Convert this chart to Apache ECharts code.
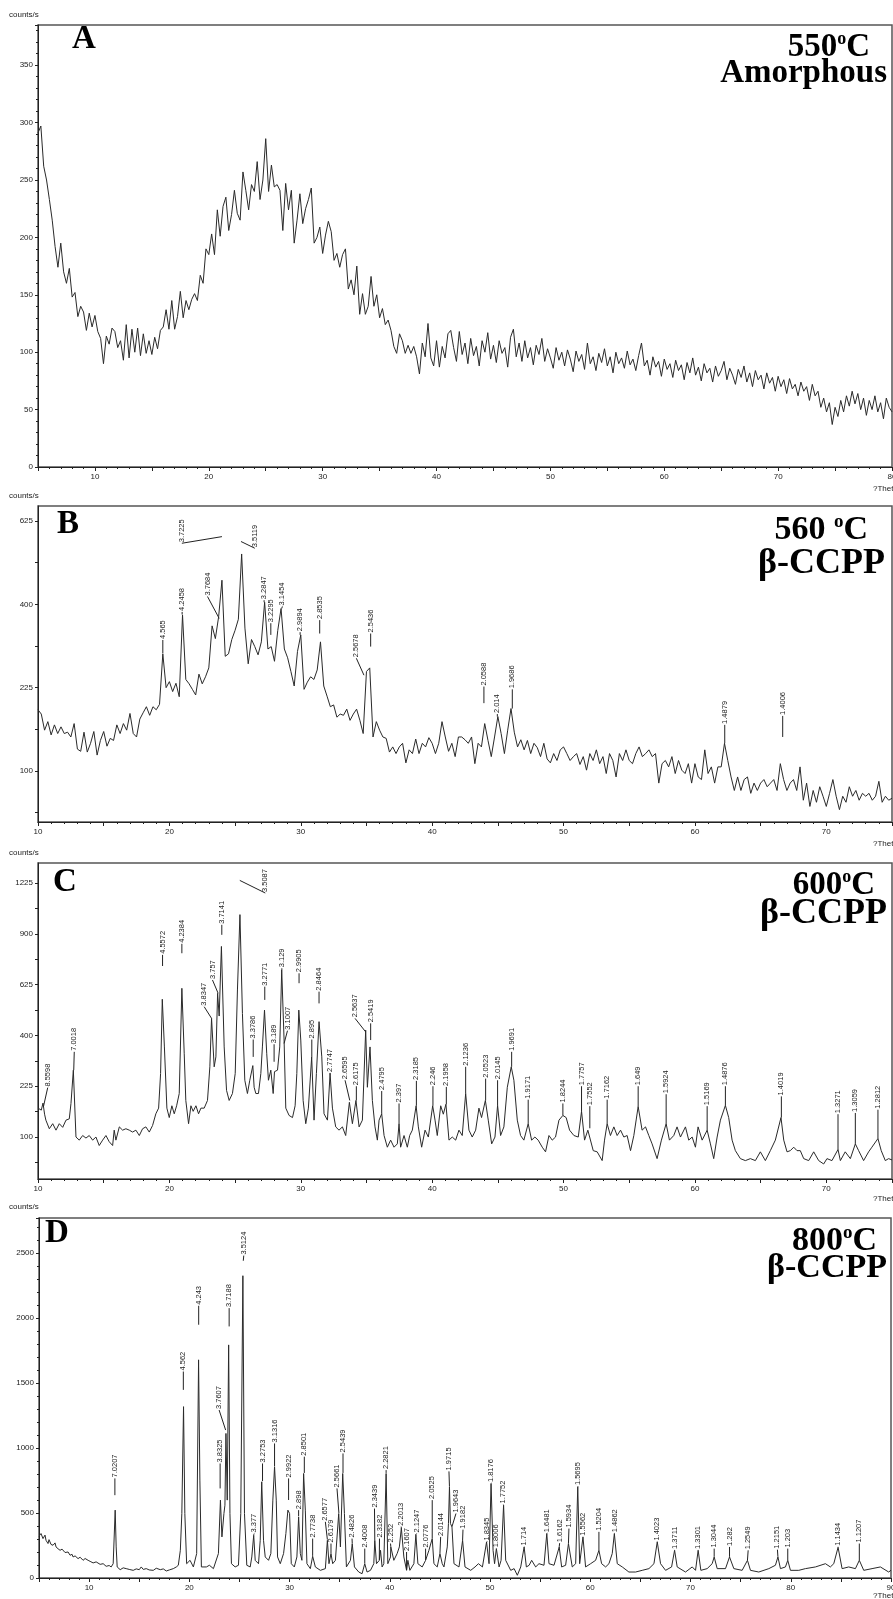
<!DOCTYPE html>
<html><head><meta charset="utf-8">
<script src="https://cdn.jsdelivr.net/npm/echarts@6/dist/echarts.min.js"></script>
<style>html,body{margin:0;padding:0;background:#fff}#c{width:893px;height:1599px}</style>
</head><body><div id="c"></div>
<script>
// ---------------- DATA ----------------
const STEP = 0.25;               // scan step (deg 2θ) for panels A and B
const aStart = 5;
// Panel A, 550 °C, counts/s, one row per degree (x.00, x.25, x.50, x.75)
const aCounts = [
 291,297,262,250, 233,215,192,174, 195,170,160,173, 148,152,131,140, 135,119,134,122, // 5-9
 132,118,112,90, 114,107,121,118, 104,110,93,124, 95,120,100,121, 97,116,99,110,      // 10-14
 98,113,103,119, 122,137,120,145, 120,131,153,130, 145,137,146,151, 145,167,160,190,   // 15-19
 185,203,185,224, 201,227,235,206, 220,241,221,215, 257,241,224,246, 240,266,233,250,  // 20-24
 286,240,263,244, 246,241,206,247, 224,241,195,215, 238,212,225,233, 243,195,200,209,  // 25-29
 186,202,214,205, 180,186,174,185, 190,155,163,150, 175,133,151,133, 140,166,140,150,  // 30-34
 130,138,124,128, 119,105,99,116, 110,99,106,99, 105,96,81,108, 96,125,95,88,          // 35-39
 110,87,105,95, 116,119,104,92, 118,98,108,90, 112,97,105,88, 110,100,117,94,          // 40-44
 106,91,110,99, 104,87,113,120, 96,108,92,110, 95,104,89,106, 98,112,92,103,           // 45-49
 95,86,104,93, 100,88,102,94, 83,101,92,98, 85,108,90,96, 84,99,91,103,                // 50-54
 88,96,82,100, 90,95,86,101, 89,94,84,97, 108,88,93,80, 96,87,92,79,                   // 55-59
 94,85,90,78, 93,84,89,76, 91,82,95,80, 87,75,90,82, 86,74,88,79,                      // 60-64
 84,92,76,86, 80,72,85,78, 88,74,82,70, 84,76,80,68, 82,73,78,66,                      // 65-69
 79,70,76,64, 77,68,72,62, 74,66,70,58, 72,62,66,52, 60,48,56,37,                      // 70-74
 52,44,58,48, 62,53,66,55, 64,50,60,45, 58,50,62,48, 56,42,60,52,                      // 75-79
 48                                                                                     // 80
];
const bStart = 10;
// Panel B, 560 °C, counts/s, one row per degree
const bCounts = [
 187,180,155,168, 148,163,150,160, 150,152,145,165, 128,125,152,124, 136,153,120,140,  // 10-14
 153,132,143,140, 163,150,165,155, 181,150,145,172, 182,192,178,192, 187,196,290,225,  // 15-19
 236,218,233,209, 375,240,232,222, 212,250,232,245, 262,350,322,371, 460,285,290,320,  // 20-24
 340,365,530,345, 270,320,305,288, 315,405,300,305, 275,340,390,300, 282,255,228,295,  // 25-29
 330,222,235,245, 240,258,315,228, 210,192,195,175, 180,178,188,170, 180,188,170,150,  // 30-34
 255,262,145,168, 155,145,143,124, 131,122,131,136, 110,127,122,142, 122,136,131,144,  // 35-39
 136,122,136,168, 145,125,136,118, 145,145,141,136, 145,109,136,131, 165,140,118,145,  // 40-44
 176,150,122,155, 189,152,131,141, 127,140,122,136, 130,118,136,115, 110,122,113,127,  // 45-49
 131,122,113,118, 122,108,118,101, 122,113,127,109, 118,97,122,113, 93,122,113,127,    // 50-54
 113,109,122,131, 118,122,127,118, 122,86,109,113, 105,118,97,113, 101,97,109,86,      // 55-59
 109,93,90,127, 97,105,86,105, 105,136,113,93, 78,93,78,90, 93,75,86,78,               // 60-64
 86,90,82,86, 90,78,109,90, 78,86,90,78, 105,68,86,62, 78,66,82,72,                    // 65-69
 62,75,90,72, 59,72,66,82, 72,78,68,75, 72,75,68,72, 88,66,72,68,                      // 70-74
 70                                                                                     // 75
];
// Panel C, 600 °C: [2θ, counts/s]
const cPoints = [
 [10.0,165],[10.1,164],[10.25,160],[10.38,178],[10.5,150],[10.6,136],[10.86,117],[11.12,128],[11.37,114],[11.62,128],
 [11.88,120],[12.13,136],[12.38,139],[12.51,177],[12.69,275],[12.89,100],[13.02,103],[13.14,94],[13.4,103],[13.65,98],
 [13.9,103],[14.16,94],[14.41,100],[14.66,84],[14.92,94],[15.17,103],[15.42,91],[15.68,84],[15.8,114],[15.93,94],
 [16.19,121],[16.44,114],[16.69,117],[16.95,114],[17.2,110],[17.45,114],[17.71,103],[17.96,117],[18.21,121],[18.47,110],
 [18.72,124],[18.97,151],[19.18,165],[19.33,264],[19.46,555],[19.62,356],[19.81,165],[19.99,142],[20.19,171],[20.37,151],
 [20.55,171],[20.75,204],[20.95,607],[21.13,331],[21.25,185],[21.46,128],[21.64,171],[21.81,157],[22.02,171],[22.22,151],
 [22.4,165],[22.65,165],[22.9,185],[23.08,286],[23.21,470],[23.41,286],[23.54,320],[23.67,583],[23.79,480],[23.96,827],
 [24.17,356],[24.35,213],[24.55,185],[24.8,204],[25.01,264],[25.18,599],[25.37,1017],[25.56,491],[25.74,243],[25.94,204],
 [26.12,243],[26.35,290],[26.45,222],[26.58,204],[26.78,204],[26.96,264],[27.08,356],[27.24,506],[27.41,331],[27.54,243],
 [27.72,275],[27.9,204],[28.0,270],[28.23,275],[28.4,356],[28.55,700],[28.73,382],[28.86,165],[29.11,147],[29.37,142],
 [29.57,171],[29.7,264],[29.85,506],[30.0,382],[30.18,185],[30.38,128],[30.58,165],[30.83,320],[31.01,136],[31.19,264],
 [31.39,456],[31.6,320],[31.77,151],[32.03,136],[32.23,264],[32.41,165],[32.66,121],[32.91,114],[33.17,121],[33.42,103],
 [33.7,180],[33.93,128],[34.2,185],[34.44,121],[34.69,136],[34.94,421],[35.07,222],[35.27,356],[35.45,185],[35.65,121],
 [35.83,94],[35.96,136],[36.16,151],[36.34,103],[36.59,81],[36.84,94],[37.1,81],[37.35,87],[37.48,128],[37.6,81],
 [37.86,103],[38.11,81],[38.29,103],[38.49,114],[38.78,171],[38.95,121],[39.2,81],[39.46,114],[39.71,100],[40.04,171],
 [40.22,136],[40.39,103],[40.65,171],[40.85,150],[41.05,175],[41.28,94],[41.53,100],[41.79,94],[42.04,114],[42.29,103],
 [42.55,204],[42.8,114],[43.05,100],[43.31,114],[43.56,165],[43.76,142],[44.05,185],[44.27,136],[44.53,87],[44.78,100],
 [44.98,172],[45.21,103],[45.46,121],[45.72,222],[46.02,286],[46.22,243],[46.48,136],[46.73,103],[46.98,94],[47.31,128],
 [47.57,94],[47.82,100],[48.07,94],[48.38,81],[48.63,73],[48.89,103],[49.14,94],[49.39,100],[49.65,136],[49.95,147],
 [50.2,142],[50.46,114],[50.79,103],[51.12,100],[51.37,157],[51.6,94],[51.85,114],[52.0,118],[52.26,75],[52.56,73],
 [52.94,59],[53.12,94],[53.32,128],[53.57,103],[53.83,121],[54.08,103],[54.34,114],[54.59,100],[54.84,103],[55.1,75],
 [55.35,103],[55.68,169],[55.98,114],[56.24,121],[56.49,103],[56.74,87],[57.12,62],[57.45,94],[57.81,128],[58.06,94],
 [58.39,103],[58.64,121],[58.9,100],[59.28,121],[59.53,94],[59.79,100],[60.04,81],[60.24,121],[60.55,94],[60.93,114],
 [61.18,87],[61.43,62],[61.69,100],[61.94,136],[62.32,172],[62.57,142],[62.83,94],[63.08,75],[63.46,62],[63.84,59],
 [64.22,62],[64.6,59],[64.98,73],[65.36,59],[65.74,75],[66.12,94],[66.55,142],[66.76,94],[67.01,73],[67.26,75],
 [67.52,81],[67.77,75],[68.02,75],[68.28,62],[68.66,59],[69.04,73],[69.42,59],[69.8,54],[70.05,62],[70.43,59],
 [70.89,77],[71.07,59],[71.44,73],[71.83,62],[72.21,87],[72.46,75],[72.84,59],[73.22,73],[73.47,81],[73.93,97],
 [74.18,75],[74.49,59],[74.74,62],[75.0,60]
];
// Panel D, 800 °C: [2θ, counts/s]
const dPoints = [
 [5.0,321],[5.2,342],[5.4,303],[5.6,330],[5.7,290],[5.9,265],[6.0,295],[6.2,258],[6.4,252],[6.6,270],
 [6.7,239],[6.9,225],[7.1,213],[7.3,222],[7.4,218],[7.6,196],[7.7,188],[7.9,200],[8.1,175],[8.3,182],
 [8.4,162],[8.6,170],[8.9,149],[9.1,160],[9.4,136],[9.6,150],[9.9,136],[10.1,128],[10.4,116],[10.7,124],
 [11.1,105],[11.4,110],[11.7,90],[12.0,96],[12.2,85],[12.4,110],[12.6,522],[12.7,239],[12.8,85],[13.1,64],
 [13.4,78],[13.7,72],[14.0,66],[14.4,59],[14.7,70],[15.0,64],[15.2,85],[15.4,66],[15.7,72],[16.0,62],
 [16.4,59],[16.7,75],[17.1,64],[17.4,70],[17.7,54],[18.0,62],[18.4,72],[18.7,85],[18.9,98],[19.1,213],
 [19.25,496],[19.42,1318],[19.55,496],[19.73,110],[20.07,136],[20.4,85],[20.73,188],[20.92,1678],[21.05,753],[21.2,85],
 [21.7,85],[22.0,98],[22.4,72],[22.9,188],[23.1,599],[23.25,316],[23.45,496],[23.55,560],[23.65,1112],[23.78,599],
 [23.92,1793],[24.05,496],[24.2,110],[24.57,85],[24.9,98],[25.13,496],[25.34,2325],[25.5,496],[25.73,98],[26.07,85],
 [26.23,162],[26.42,329],[26.57,136],[26.9,110],[27.07,290],[27.22,740],[27.4,290],[27.57,162],[27.9,136],[28.13,188],
 [28.33,599],[28.5,856],[28.67,599],[28.8,162],[29.07,110],[29.4,188],[29.63,342],[29.83,522],[30.0,496],[30.17,110],
 [30.47,85],[30.73,162],[30.9,470],[31.07,188],[31.23,136],[31.4,804],[31.57,522],[31.73,110],[32.07,72],[32.3,167],
 [32.57,85],[33.07,59],[33.57,72],[33.77,290],[33.93,110],[34.13,188],[34.3,110],[34.57,136],[34.9,496],[35.07,239],
 [35.3,804],[35.47,496],[35.67,85],[36.07,136],[36.25,265],[36.47,85],[36.9,46],[37.23,33],[37.5,110],[37.73,46],
 [38.07,59],[38.4,110],[38.5,290],[38.67,110],[38.95,136],[39.07,213],[39.23,85],[39.4,110],[39.63,804],[39.8,110],
 [40.07,162],[40.1,239],[40.4,136],[40.73,188],[40.95,239],[41.15,385],[41.4,162],[41.67,59],[41.8,136],[42.0,59],
 [42.4,110],[42.6,335],[42.8,110],[43.23,85],[43.57,136],[43.9,213],[44.23,303],[44.4,110],[44.73,85],[45.0,188],
 [45.23,110],[45.4,85],[45.73,239],[45.85,419],[45.95,700],[46.05,419],[46.2,393],[46.4,110],[46.9,85],[47.26,290],
 [47.5,85],[48.07,59],[48.5,85],[48.84,110],[49.24,85],[49.65,277],[49.9,110],[50.1,727],[50.3,213],[50.45,110],
 [50.63,226],[50.9,85],[51.1,136],[51.35,560],[51.56,136],[52.06,59],[52.4,72],[52.72,21],[53.06,85],[53.4,239],
 [53.62,85],[53.9,98],[54.15,136],[54.55,85],[54.88,110],[55.38,98],[55.66,342],[55.88,110],[56.38,98],[56.9,239],
 [57.14,85],[57.54,98],[57.82,265],[58.2,85],[58.54,110],[58.75,701],[58.94,110],[59.27,316],[59.53,85],[60.03,110],
 [60.53,136],[60.86,213],[61.13,110],[61.53,85],[61.86,110],[62.19,188],[62.4,342],[62.69,110],[63.19,85],[63.85,46],
 [64.52,46],[65.18,59],[65.85,72],[66.35,110],[66.68,278],[67.01,110],[67.51,59],[68.11,85],[68.41,213],[68.67,85],
 [69.5,46],[70.17,85],[70.5,59],[70.76,213],[71.03,59],[71.66,72],[72.16,110],[72.36,162],[72.66,72],[73.49,72],
 [73.89,162],[74.32,72],[75.15,59],[75.68,136],[75.98,59],[76.81,46],[77.81,72],[78.47,98],[78.72,162],[78.97,72],
 [79.47,85],[79.7,136],[79.97,59],[80.8,59],[81.46,72],[82.46,85],[83.46,110],[83.95,85],[84.29,110],[84.72,236],
 [85.12,72],[85.78,85],[86.45,72],[86.84,136],[87.28,59],[88.11,72],[88.94,85],[89.77,46],[90.0,60]
];
// Peak labels: [d-spacing text, label 2θ, label base counts, leader end 2θ, leader end counts]
const bLabels = [
 ['4.565',19.5,319,19.5,291],['4.2458',20.97,382,20.97,376],['3.7684',22.9,419,23.79,367],
 ['3.7225',20.95,560,24.0,579],['3.5119',26.5,546,25.45,565],['3.2847',27.21,410,27.21,405],
 ['3.2295',27.72,356,27.72,330],['3.1454',28.6,395,28.55,390],['2.9894',29.95,336,29.95,330],
 ['2.8535',31.44,363,31.44,333],['2.5678',34.23,281,34.81,248],['2.5436',35.32,333,35.32,305],
 ['2.0588',43.94,227,43.94,198],['2.014',44.96,180,44.96,176],['1.9686',46.1,222,46.1,189],
 ['1.4879',62.27,163,62.27,136],['1.4006',66.68,177,66.68,145]
];
const cLabels = [
 ['8.5598',10.74,221,10.41,168],['7.0018',12.76,338,12.72,275],['4.5572',19.48,780,19.48,720],
 ['4.2384',20.95,842,20.95,789],['3.8347',22.65,521,23.21,470],['3.757',23.28,648,23.71,583],
 ['3.7141',23.99,954,23.99,894],['3.5087',27.3,1157,25.36,1243],['3.3786',26.38,384,26.38,320],
 ['3.2771',27.26,615,27.26,552],['3.189',27.97,366,27.97,303],['3.129',28.56,708,28.56,700],
 ['3.1007',28.99,419,28.73,369],['2.9905',29.87,682,29.87,632],['2.895',30.84,384,30.84,320],
 ['2.8464',31.39,591,31.39,536],['2.7747',32.23,266,32.23,262],['2.6595',33.37,243,33.73,185],
 ['2.6175',34.23,225,34.23,185],['2.5637',34.13,470,34.94,414],['2.5419',35.32,449,35.32,382],
 ['2.4795',36.16,211,36.16,151],['2.397',37.48,177,37.48,128],['2.3185',38.8,241,38.8,171],
 ['2.246',40.06,225,40.06,171],['2.1958',41.08,223,41.08,175],['2.1236',42.55,286,42.55,204],
 ['2.0523',44.07,248,44.07,185],['2.0145',44.98,243,44.98,172],['1.9691',46.05,338,46.05,286],
 ['1.9171',47.31,187,47.31,128],['1.8244',49.95,177,49.95,147],['1.7757',51.37,225,51.37,157],
 ['1.7552',52.0,170,52.0,118],['1.7162',53.32,187,53.32,128],['1.649',55.68,225,55.68,169],
 ['1.5924',57.81,202,57.81,128],['1.5169',60.93,170,60.93,114],['1.4876',62.32,225,62.32,172],
 ['1.4019',66.58,196,66.58,142],['1.3271',70.89,150,70.89,77],['1.3059',72.21,153,72.21,87],
 ['1.2812',73.93,161,73.93,97]
];
const dLabels = [
 ['7.0207',12.57,766,12.57,637],['4.562',19.4,1588,19.4,1447],['4.243',20.93,2094,20.93,1948],
 ['3.8325',23.07,881,23.07,689],['3.7607',22.97,1292,23.62,1138],['3.7188',23.97,2076,23.97,1935],
 ['3.5124',25.43,2480,25.38,2440],['3.377',26.47,342,26.42,332],['3.2753',27.3,881,27.3,745],
 ['3.1316',28.5,1035,28.5,860],['2.9922',29.9,766,29.9,600],['2.898',30.9,522,30.9,475],
 ['2.8501',31.47,933,31.47,808],['2.7738',32.3,303,32.3,170],['2.6577',33.57,432,33.77,295],
 ['2.6179',34.13,265,34.13,190],['2.5661',34.73,689,34.92,500],['2.5439',35.33,958,35.33,808],
 ['2.4826',36.23,303,36.25,268],['2.4008',37.5,226,37.5,112],['2.3439',38.47,534,38.5,292],
 ['2.3182',38.97,303,38.95,140],['2.2821',39.63,830,39.63,808],['2.252',40.07,265,40.1,240],
 ['2.2013',41.13,395,41.15,385],['2.1607',41.67,200,41.67,62],['2.1247',42.67,342,42.6,335],
 ['2.0776',43.57,226,43.57,138],['2.0525',44.23,599,44.23,305],['2.0144',45.07,316,45.0,190],
 ['1.9715',45.9,820,45.95,702],['1.9643',46.6,496,46.2,395],['1.9182',47.3,372,47.26,292],
 ['1.8345',49.73,280,49.65,278],['1.8176',50.13,730,50.1,728],['1.8006',50.63,228,50.63,227],
 ['1.7752',51.33,565,51.35,562],['1.714',53.42,242,53.4,240],['1.6481',55.71,345,55.66,343],
 ['1.6162',56.94,268,56.9,240],['1.5934',57.87,380,57.82,266],['1.5695',58.8,707,58.75,702],
 ['1.5562',59.27,318,59.27,317],['1.5204',60.86,355,60.86,214],['1.4862',62.43,345,62.4,343],
 ['1.4023',66.68,280,66.68,278],['1.3711',68.4,216,68.41,214],['1.3301',70.76,216,70.76,214],
 ['1.3044',72.36,226,72.36,163],['1.282',73.89,239,73.89,163],['1.2549',75.75,213,75.68,137],
 ['1.2151',78.67,218,78.72,163],['1.203',79.7,226,79.7,137],['1.1434',84.72,240,84.72,236],
 ['1.1207',86.84,265,86.84,137]
];
const panelLetters = ['A','B','C','D'];
const panelTemps = ['550','560 ','600','800'];
const panelPhases = ['Amorphous','β-CCPP','β-CCPP','β-CCPP'];
const yLabelsB = [100,225,400,625];
const yLabelsC = [100,225,400,625,900,1225];
const xName = '?Theta';
const yName = 'counts/s';

// ---------------- LAYOUT / STYLE ----------------
const SANS = '"Liberation Sans", Arial, sans-serif';
const SERIF = '"Liberation Serif", "Times New Roman", serif';
const INK = '#222';
const LABEL_FONT = '7.5px ' + SANS;
const grids = [
  {left:38, top:25,   width:854, height:442},
  {left:38, top:506,  width:854, height:316},
  {left:38, top:863,  width:854, height:316},
  {left:39, top:1218, width:852, height:360}
];
const sq = v => Math.sqrt(v);
const lin = v => v;
const tfs = [lin, sq, sq, lin];

const xRanges = [[5,80],[10,75],[10,75],[5,90]];
function xAxis(i){
  return {
    type:'value', gridIndex:i, min:xRanges[i][0], max:xRanges[i][1], interval:5,
    axisLine:{show:true, onZero:false, lineStyle:{color:INK, width:1}},
    axisTick:{show:true, length:4, lineStyle:{color:INK}},
    minorTick:{show:true, splitNumber:5, length:2, lineStyle:{color:INK}},
    splitLine:{show:false}, minorSplitLine:{show:false},
    axisLabel:{show:true, margin:6, fontSize:8, fontFamily:SANS, color:INK, hideOverlap:false,
      formatter: v => (Math.round(v) % 10 === 0 ? String(Math.round(v)) : '')}
  };
}
function sqrtTicks(lo, hi){ const t=[]; for(let s=7.5; s<=hi; s+=2.5) if(s>=lo) t.push(s); return t; }
const yAxes = [
  { type:'value', gridIndex:0, min:0, max:385, interval:50,
    axisTick:{length:3}, minorTick:{show:true, splitNumber:5, length:2, lineStyle:{color:INK}},
    axisLabel:{showMaxLabel:false, formatter: v => String(v)} },
  { type:'value', gridIndex:1, min:6.94, max:25.9,
    axisTick:{length:3, customValues: sqrtTicks(6.94,25.9)},
    axisLabel:{customValues: yLabelsB.map(sq), formatter: v => String(Math.round(v*v))} },
  { type:'value', gridIndex:2, min:5.87, max:36.97,
    axisTick:{length:3, customValues: sqrtTicks(5.87,36.97)},
    axisLabel:{customValues: yLabelsC.map(sq), formatter: v => String(Math.round(v*v))} },
  { type:'value', gridIndex:3, min:0, max:2769, interval:500,
    axisTick:{length:3}, minorTick:{show:true, splitNumber:5, length:2, lineStyle:{color:INK}},
    axisLabel:{showMaxLabel:false, formatter: v => String(v)} }
].map(a => Object.assign(a, {
  axisLine:{show:true, onZero:false, lineStyle:{color:INK, width:1}},
  splitLine:{show:false}, minorSplitLine:{show:false},
  axisTick: Object.assign({show:true, lineStyle:{color:INK}}, a.axisTick),
  axisLabel: Object.assign({show:true, margin:5, fontSize:8, fontFamily:SANS, color:INK}, a.axisLabel)
}));

const lineData = [
  aCounts.map((v,i) => [aStart + i*STEP, v]),
  bCounts.map((v,i) => [bStart + i*STEP, sq(v)]),
  cPoints.map(p => [p[0], sq(p[1])]),
  dPoints.map(p => [p[0], p[1]])
];
const series = lineData.map((d,i) => ({
  type:'line', xAxisIndex:i, yAxisIndex:i, data:d, showSymbol:false, symbol:'none',
  lineStyle:{color:'#2a2a2a', width:1}, silent:true, z:3
}));
function labelSeries(i, labels){
  const tf = tfs[i];
  return {
    type:'custom', xAxisIndex:i, yAxisIndex:i, silent:true, z:10, clip:false,
    data: labels.map(l => [l[1], tf(l[2]), l[3], tf(l[4])]),
    renderItem: (params, api) => {
      const l = labels[params.dataIndex];
      const a = api.coord([api.value(0), api.value(1)]);
      const b = api.coord([api.value(2), api.value(3)]);
      return {type:'group', children:[
        {type:'line', shape:{x1:a[0], y1:a[1], x2:b[0], y2:b[1]}, style:{stroke:INK, lineWidth:1}},
        {type:'text', x:a[0], y:a[1]-1, rotation:Math.PI/2,
          style:{text:l[0], font:LABEL_FONT, fill:INK, align:'left', textAlign:'left',
                 verticalAlign:'middle', textVerticalAlign:'middle'}}
      ]};
    }
  };
}
series.push(labelSeries(1, bLabels), labelSeries(2, cLabels), labelSeries(3, dLabels));

// text positions (px)
const letterPos = [[72,39],[57,524],[53,882],[45,1233]];
const tempPos = [[870,47],[868,530],[875,885],[877,1241]];
const phasePos = [[887,73],[885,564],[887,914],[887,1268]];
const tempSize = [33,34,33,34];
const phaseSize = [33,36,36,34];
const yNameY = [15,496,853,1207];
const xNameY = [489,844,1199,1596];

const graphic = [];
function txt(x, y, text, font, align, extra){
  return Object.assign({type:'text', x, y, silent:true, z:20,
    style:Object.assign({text, font, fill:'#000', align, textAlign:align,
      verticalAlign:'middle', textVerticalAlign:'middle'}, extra||{})});
}
for (let i=0;i<4;i++){
  graphic.push(txt(letterPos[i][0], letterPos[i][1], panelLetters[i], 'bold 33px '+SERIF, 'left'));
  const ts = tempSize[i];
  graphic.push(txt(tempPos[i][0], tempPos[i][1], '{n|'+panelTemps[i]+'}{s|o}{n|C}', 'bold '+ts+'px '+SERIF, 'right',
    {rich:{ n:{font:'bold '+ts+'px '+SERIF, fill:'#000', lineHeight:ts},
            s:{font:'bold '+Math.round(ts*0.55)+'px '+SERIF, fill:'#000', verticalAlign:'top', lineHeight:Math.round(ts*0.62)} }}));
  graphic.push(txt(phasePos[i][0], phasePos[i][1], panelPhases[i], 'bold '+phaseSize[i]+'px '+SERIF, 'right'));
  graphic.push(txt(9, yNameY[i], yName, '8px '+SANS, 'left', {fill:INK}));
  graphic.push(txt(873, xNameY[i], xName, '8px '+SANS, 'left', {fill:INK}));
}

const chart = echarts.init(document.getElementById('c'), null, {renderer:'canvas'});
chart.setOption({
  animation:false,
  backgroundColor:'#fff',
  grid: grids.map(g => Object.assign({show:true, borderColor:'#555', borderWidth:1.5,
    backgroundColor:'transparent', containLabel:false, outerBoundsMode:'none'}, g)),
  xAxis: [0,1,2,3].map(xAxis),
  yAxis: yAxes,
  series,
  graphic
});
</script>
</body></html>
